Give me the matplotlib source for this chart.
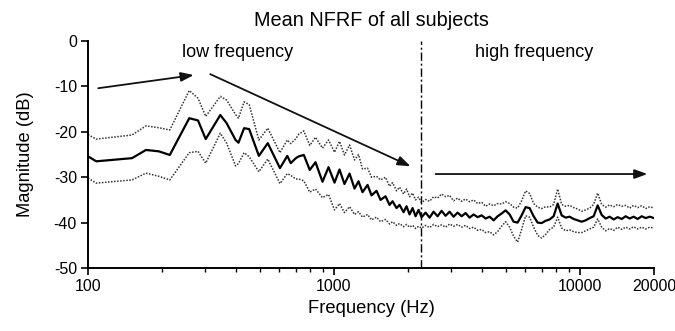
import matplotlib
matplotlib.use('Agg')
import matplotlib.pyplot as plt
from matplotlib.ticker import FixedLocator, NullFormatter

plt.rcParams['font.family'] = ['Liberation Sans', 'DejaVu Sans']
plt.rcParams['axes.unicode_minus'] = False

# values
freq_hz = [100, 108, 151, 172, 194, 215, 258, 280, 301, 345, 366, 398, 409, 431, 452,
           495, 538, 603, 646, 667, 700, 720, 754, 797,
           841, 898, 950, 1005, 1053, 1103, 1157, 1212, 1258, 1306, 1369, 1421, 1489,
           1546, 1620, 1682, 1730, 1796, 1847, 1918, 1972, 2029, 2087, 2146, 2207,
           2270, 2357, 2447, 2540, 2637, 2738, 2842, 2951, 3063, 3180, 3302, 3428,
           3559, 3695, 3836, 3982, 4134, 4292, 4456, 4626, 4803, 4986, 5176, 5374,
           5579, 5792, 6013, 6243, 6481, 6728, 6985, 7252, 7529, 7816, 8115, 8424,
           8746, 9080, 9426, 9786, 10160, 10548, 10950, 11368, 11802, 12253, 12721,
           13206, 13710, 14234, 14777, 15341, 15927, 16535, 17166, 17822, 18502,
           19208, 20000]

mean_db = [-25.4, -26.5, -25.8, -24.0, -24.3, -25.1, -17.0, -17.5, -21.6, -16.3, -18.1,
           -21.8, -22.4, -19.2, -19.4, -25.3, -22.5, -28.0, -25.3, -26.9, -25.8, -25.4,
           -25.1, -28.4,
           -26.7, -31.0, -27.8, -31.2, -28.3, -31.5, -29.2, -32.5, -30.9, -33.3, -31.7,
           -34.0, -33.0, -35.0, -34.2, -36.1, -35.3, -36.8, -36.1, -37.7, -36.4, -38.2,
           -36.8, -38.6, -37.2,
           -38.8, -37.8, -38.9, -37.6, -38.6, -37.4, -38.5, -37.6, -38.7, -37.8, -38.6,
           -37.9, -38.9, -38.2, -38.8, -38.4, -39.1, -38.7, -39.5, -38.6, -38.0, -37.3,
           -38.2, -39.8, -40.0, -38.4, -36.6, -36.8, -38.6, -40.0, -40.1, -39.6, -39.3,
           -38.6, -35.8, -38.4, -38.9, -38.7, -39.2, -39.5, -39.8, -39.5, -39.0, -38.6,
           -36.2, -38.3, -39.1, -38.7, -39.3, -38.8, -39.2, -38.6, -39.1, -38.7, -39.2,
           -38.6, -39.0, -38.7, -39.0]

upper_db = [-20.6, -21.6, -20.7, -18.7, -19.1, -19.6, -10.9, -12.6, -16.6, -12.2, -13.0,
            -16.2, -17.0, -13.4, -14.0, -21.8, -19.2, -24.6, -21.8, -22.6, -21.5, -20.5,
            -19.8, -23.0,
            -21.2, -23.6, -21.8, -24.5, -22.1, -25.1, -22.9, -26.2, -25.0, -28.2, -28.0,
            -30.0, -29.8, -30.6, -30.0, -32.0, -31.2, -33.0, -32.2, -33.7, -32.6, -34.3,
            -33.5, -35.0, -34.4,
            -35.6, -34.9, -35.3, -34.3, -34.6, -33.7, -34.3, -34.0, -35.2, -34.6, -35.3,
            -34.8, -35.4, -35.0, -35.8, -35.5, -36.4, -35.9, -36.3, -35.8, -35.9, -35.4,
            -35.8, -36.6, -36.8, -35.2, -33.0, -33.6, -35.8, -36.6, -36.9, -36.5, -36.6,
            -36.0, -32.6, -36.0, -36.4, -36.2, -36.7, -37.0, -37.5, -37.2, -36.8, -36.0,
            -33.5, -36.0, -36.6, -36.1, -36.5, -36.0, -36.4, -36.2, -36.8, -36.2, -36.7,
            -36.3, -36.9, -36.5, -36.8]

lower_db = [-30.2, -31.3, -30.6, -29.1, -29.8, -30.6, -24.6, -24.3, -26.9, -20.3, -22.5,
            -27.5, -27.0, -24.6, -25.5, -28.8, -26.0, -31.4, -29.2, -29.6, -30.4, -30.4,
            -30.8, -33.3,
            -32.6, -34.5, -33.8, -37.2, -35.8, -37.8, -36.5, -38.2, -37.6, -38.8, -38.2,
            -39.4, -38.8, -39.8, -39.3, -40.3, -39.8, -40.6, -40.2, -40.9, -40.4, -41.0,
            -40.6, -41.3, -40.8,
            -41.2, -40.6, -41.1, -40.4, -40.9, -40.5, -41.0, -40.3, -40.8, -40.4, -41.0,
            -40.6, -41.3, -41.0, -41.7, -41.5, -42.2, -42.0, -42.7, -42.0, -40.8, -39.8,
            -41.0, -43.0, -44.3, -41.5, -38.5, -38.8, -41.0, -42.8, -43.4, -42.6, -41.5,
            -41.0, -38.8, -41.2, -41.8, -41.6, -42.0, -42.2, -42.2, -41.8, -41.4, -41.0,
            -39.2, -41.0, -41.8, -41.3, -41.7, -41.0, -41.5, -41.0, -41.4, -40.9, -41.4,
            -41.0, -41.4, -41.0, -41.2]

split_hz = 2250
xticks_major = [100, 1000, 10000, 20000]
xtick_labels = ['100', '1000', '10000', '20000']
xticks_minor = [200, 300, 400, 500, 600, 700, 800, 900,
                2000, 3000, 4000, 5000, 6000, 7000, 8000, 9000]
yticks = [0, -10, -20, -30, -40, -50]

fig = plt.figure(figsize=(6.75, 3.31), dpi=100)
ax = fig.add_axes([0.1304, 0.1903, 0.8385, 0.6858])

ax.plot(freq_hz, upper_db, color='#333333', lw=1.1, ls=(0, (1, 1)))
ax.plot(freq_hz, lower_db, color='#333333', lw=1.1, ls=(0, (1, 1)))
ax.plot(freq_hz, mean_db, color='black', lw=1.6)
ax.axvline(split_hz, color='black', lw=1.0, ls=(0, (6, 2, 1.5, 2)))

ax.set_xscale('log')
ax.set_xlim(100, 20000)
ax.set_ylim(-50, 0)
ax.xaxis.set_major_locator(FixedLocator(xticks_major))
ax.set_xticklabels(xtick_labels)
ax.xaxis.set_minor_locator(FixedLocator(xticks_minor))
ax.xaxis.set_minor_formatter(NullFormatter())
ax.set_yticks(yticks)
ax.set_yticklabels([str(v) for v in yticks])

for s in ['top', 'right']:
    ax.spines[s].set_visible(False)
for s in ['left', 'bottom']:
    ax.spines[s].set_linewidth(1.4)
ax.tick_params(which='major', direction='out', length=5, width=1.2, labelsize=11.5, pad=3)
ax.tick_params(which='minor', direction='out', length=3, width=1.0)

ax.set_title('Mean NFRF of all subjects', fontsize=14.3, pad=11)
ax.set_xlabel('Frequency (Hz)', fontsize=13.2, labelpad=4)
ax.set_ylabel('Magnitude (dB)', fontsize=13.2, labelpad=14)

ax.text(407, -2.6, 'low frequency', fontsize=13, ha='center', va='center')
ax.text(6500, -2.6, 'high frequency', fontsize=13, ha='center', va='center')

arrow = dict(arrowstyle='-|>,head_length=0.55,head_width=0.2', color='#111111',
             lw=1.3, mutation_scale=14, shrinkA=0, shrinkB=0)
ax.annotate('', xy=(269, -7.5), xytext=(110, -10.4), arrowprops=arrow)
ax.annotate('', xy=(2048, -27.6), xytext=(314, -7.3), arrowprops=arrow)
ax.annotate('', xy=(18800, -29.3), xytext=(2588, -29.3), arrowprops=arrow)

fig.savefig('out.png', dpi=100)
